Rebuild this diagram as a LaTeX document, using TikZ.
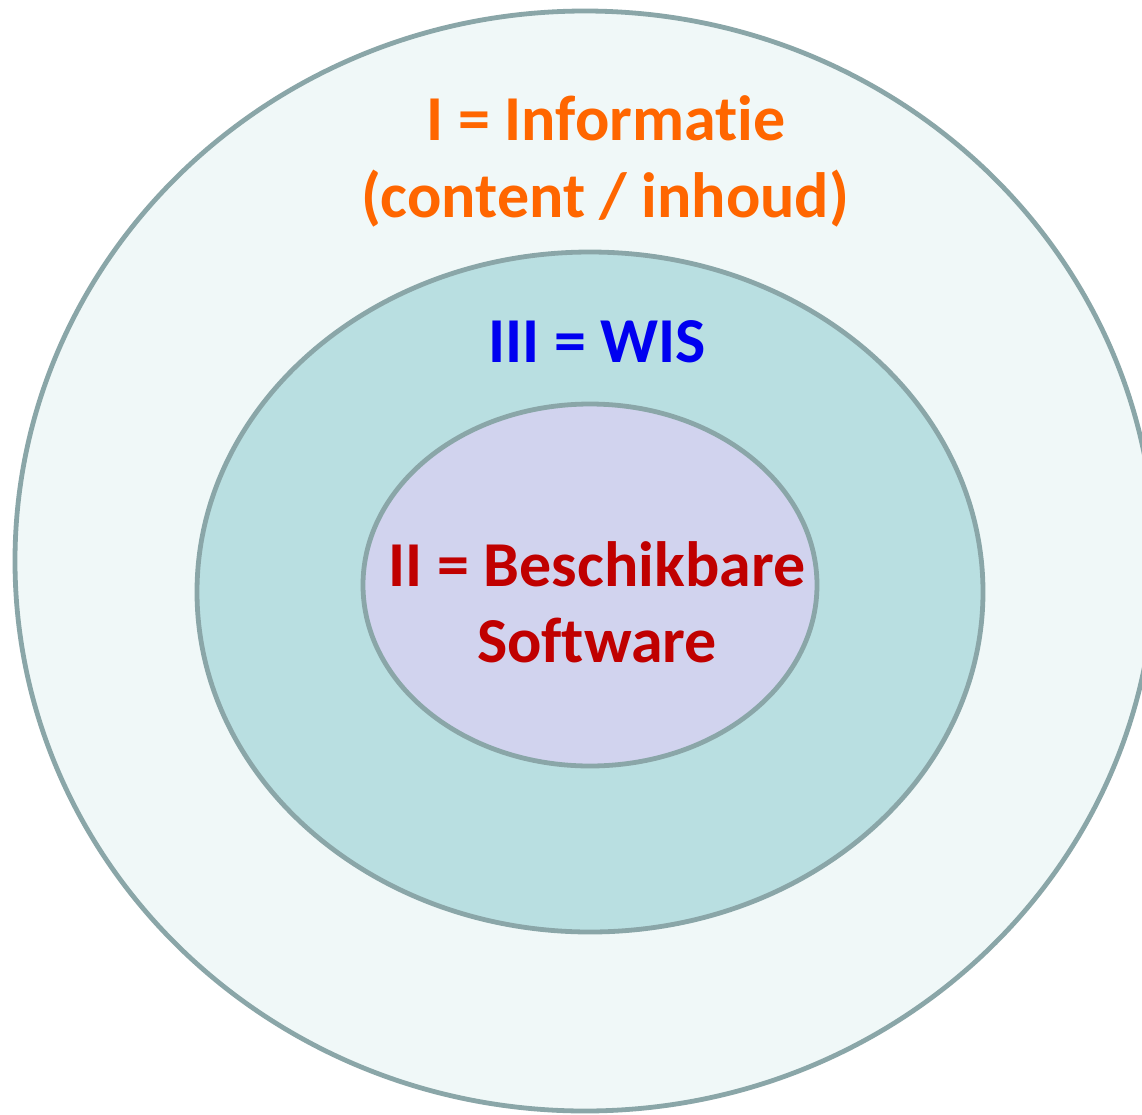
\documentclass[tikz,border=0pt]{standalone}
\usepackage{fontspec}
\setmainfont{Carlito}[Ligatures={NoCommon}]
\definecolor{ringline}{HTML}{8AA6A8}
\definecolor{outerfill}{HTML}{F0F8F8}
\definecolor{midfill}{HTML}{B9DFE1}
\definecolor{innerfill}{HTML}{D1D3EE}
\definecolor{txtorange}{HTML}{FF6600}
\definecolor{txtblue}{HTML}{0000F0}
\definecolor{txtred}{HTML}{C00000}
\begin{document}
\begin{tikzpicture}[x=0.5pt,y=-0.5pt,
  ring/.style={draw=ringline,line width=2.4pt},
  lbl/.style={font=\fontsize{32}{38.5}\selectfont\bfseries,anchor=base,inner sep=0pt}]
\useasboundingbox (0,0) rectangle (1142,1115);
\clip (0,0) rectangle (1142,1115);
\fill[white] (0,0) rectangle (1142,1115);
\path[ring,fill=outerfill] (585,561) ellipse [x radius=570, y radius=550];
\path[ring,fill=midfill] (590,592) ellipse [x radius=393, y radius=340];
\path[ring,fill=innerfill] (590,585) ellipse [x radius=227, y radius=181];
\node[lbl,text=txtorange] (l1a) at (606,140) {I = Informatie};
\node[lbl,text=txtorange] (l1b) at (605,217) {(content / inhoud)};
\node[lbl,text=txtblue] (l3) at (597,362) {III = WIS};
\node[lbl,text=txtred] (l2a) at (597,586) {II = Beschikbare};
\node[lbl,text=txtred] (l2b) at (597,662) {Software};
\end{tikzpicture}
\end{document}
